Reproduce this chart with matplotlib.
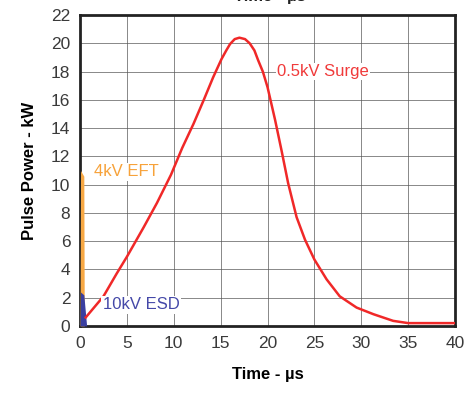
import matplotlib.pyplot as plt
import numpy as np

plt.rcParams['font.family'] = ['Liberation Sans', 'DejaVu Sans']

# surge waveform (time in us, power in kW)
surge_t = [0.6, 2.5, 3.9, 5.0, 6.8, 8.2, 9.7, 10.9, 12.1, 13.2, 14.2, 15.1,
           15.6, 16.0, 16.5, 17.0, 17.6, 18.1, 18.6, 19.0, 19.5, 20.0, 20.8,
           21.5, 22.2, 23.1, 24.0, 25.0, 26.3, 27.7, 29.5, 31.3, 33.4, 35.0, 40.0]
surge_p = [0.6, 2.1, 3.7, 4.9, 7.0, 8.7, 10.7, 12.6, 14.3, 16.0, 17.6, 18.9,
           19.5, 19.95, 20.3, 20.4, 20.3, 20.0, 19.5, 18.8, 18.0, 16.9, 14.6,
           12.4, 10.1, 7.7, 6.1, 4.7, 3.3, 2.1, 1.3, 0.83, 0.36, 0.2, 0.2]

# EFT pulse
eft_t = [0.0, 0.05, 0.4, 0.45]
eft_p = [0.0, 11.0, 10.6, 0.0]

# ESD pulse
esd_t = [0.0, 0.05, 0.4, 0.7]
esd_p = [0.0, 2.4, 2.2, 0.0]

x_ticks = [0, 5, 10, 15, 20, 25, 30, 35, 40]
y_ticks = [0, 2, 4, 6, 8, 10, 12, 14, 16, 18, 20, 22]

fig = plt.figure(figsize=(4.71, 3.97), dpi=100)
ax = fig.add_axes([0.170, 0.179, 0.796, 0.783])

ax.fill_between(eft_t, eft_p, color='#f7a844', lw=0, zorder=3)
ax.fill_between(esd_t, esd_p, color='#3a3fa0', lw=0, zorder=4)
ax.plot(surge_t, surge_p, color='#f02828', lw=1.8, zorder=5,
        solid_joinstyle='round')

ax.set_xlim(0, 40)
ax.set_ylim(0, 22)
ax.set_xticks(x_ticks)
ax.set_yticks(y_ticks)
ax.grid(True, color='#555555', lw=0.7, alpha=0.7)
ax.set_axisbelow(True)
for s in ax.spines.values():
    s.set_linewidth(2)
    s.set_color('#222222')
ax.tick_params(length=0, labelsize=12.5, colors='#3a3a3a', pad=7)

ax.text(21.0, 18.0, '0.5kV Surge', color='#f03a3a', fontsize=12, va='center',
        ha='left', zorder=6, bbox=dict(facecolor='white', edgecolor='none', pad=1))
ax.text(1.5, 10.9, '4kV EFT', color='#f7a23a', fontsize=12, va='center', ha='left',
        zorder=6, bbox=dict(facecolor='white', edgecolor='none', pad=1))
ax.text(2.4, 1.5, '10kV ESD', color='#4448a8', fontsize=12, va='center', ha='left',
        zorder=6, bbox=dict(facecolor='white', edgecolor='none', pad=1))

ax.set_xlabel('Time - µs', fontsize=12, fontweight='bold', labelpad=12)
ax.set_ylabel('Pulse Power - kW', fontsize=12, fontweight='bold', labelpad=10)

# title of the chart above, cut off at the top edge as in the original
fig.text(0.573, 0.997, 'Time - µs', fontsize=12, fontweight='bold', color='#222222',
         ha='center', va='baseline')

fig.savefig('out.png', dpi=100)
